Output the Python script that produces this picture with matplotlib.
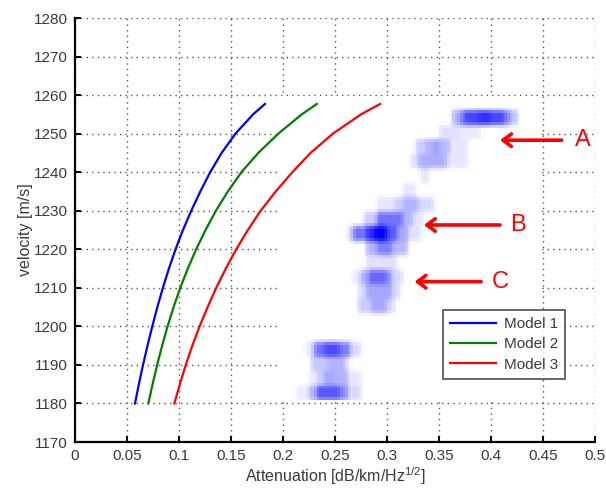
import numpy as np
import matplotlib
matplotlib.use("Agg")
import matplotlib.pyplot as plt
from matplotlib.colors import LinearSegmentedColormap

plt.rcParams["font.family"] = ["Liberation Sans", "DejaVu Sans"]
plt.rcParams["mathtext.fontset"] = "custom"
plt.rcParams["mathtext.rm"] = "Liberation Sans"
plt.rcParams["mathtext.it"] = "Liberation Sans"

# Model velocity-attenuation curves
velocity = [1180, 1185, 1190, 1195, 1200, 1205, 1210, 1215, 1220, 1225,
            1230, 1235, 1240, 1245, 1250, 1255, 1257.7]
model1 = [0.0577, 0.0614, 0.0654, 0.0697, 0.0743, 0.0792, 0.0845, 0.0903,
          0.0967, 0.1038, 0.1118, 0.1205, 0.1300, 0.1410, 0.1543, 0.1712, 0.1827]
model2 = [0.0705, 0.0746, 0.0790, 0.0838, 0.0890, 0.0948, 0.1012, 0.1085,
          0.1165, 0.1255, 0.1355, 0.1470, 0.1600, 0.1762, 0.1955, 0.2180, 0.2325]
model3 = [0.0955, 0.1008, 0.1065, 0.1128, 0.1198, 0.1275, 0.1358, 0.1450,
          0.1550, 0.1662, 0.1785, 0.1930, 0.2090, 0.2265, 0.2480, 0.2750, 0.2933]
model_names = ["Model 1", "Model 2", "Model 3"]
model_colors = ["#0000ff", "#007f00", "#ff0000"]

# Measured density: (velocity row centre, attenuation from, attenuation to, level)
density_runs = [
    (1254.1, 0.362, 0.370, 0.30), (1254.1, 0.370, 0.376, 0.55),
    (1254.1, 0.376, 0.387, 0.72), (1254.1, 0.387, 0.399, 0.80),
    (1254.1, 0.399, 0.412, 0.70), (1254.1, 0.412, 0.418, 0.50),
    (1254.1, 0.418, 0.425, 0.25),
    (1250.4, 0.351, 0.370, 0.12), (1250.4, 0.370, 0.391, 0.08),
    (1246.6, 0.327, 0.337, 0.20), (1246.6, 0.337, 0.344, 0.30),
    (1246.6, 0.344, 0.351, 0.38), (1246.6, 0.351, 0.360, 0.28),
    (1246.6, 0.360, 0.377, 0.10),
    (1242.9, 0.322, 0.330, 0.12), (1242.9, 0.330, 0.357, 0.32),
    (1242.9, 0.357, 0.377, 0.10),
    (1239.1, 0.332, 0.341, 0.12),
    (1235.4, 0.315, 0.327, 0.10),
    (1231.6, 0.291, 0.307, 0.10), (1231.6, 0.307, 0.315, 0.20),
    (1231.6, 0.315, 0.331, 0.30), (1231.6, 0.331, 0.346, 0.15),
    (1227.9, 0.277, 0.291, 0.20), (1227.9, 0.291, 0.315, 0.55),
    (1227.9, 0.315, 0.325, 0.30), (1227.9, 0.325, 0.335, 0.10),
    (1224.1, 0.262, 0.267, 0.15), (1224.1, 0.267, 0.280, 0.55),
    (1224.1, 0.280, 0.287, 0.80), (1224.1, 0.287, 0.301, 1.00),
    (1224.1, 0.301, 0.311, 0.65), (1224.1, 0.311, 0.319, 0.35),
    (1224.1, 0.319, 0.332, 0.12),
    (1220.4, 0.281, 0.291, 0.30), (1220.4, 0.291, 0.305, 0.50),
    (1220.4, 0.305, 0.320, 0.28),
    (1216.6, 0.280, 0.310, 0.12),
    (1212.9, 0.267, 0.275, 0.10), (1212.9, 0.275, 0.282, 0.35),
    (1212.9, 0.282, 0.301, 0.60), (1212.9, 0.301, 0.306, 0.40),
    (1212.9, 0.306, 0.315, 0.15),
    (1209.1, 0.273, 0.280, 0.15), (1209.1, 0.280, 0.305, 0.35),
    (1209.1, 0.305, 0.312, 0.15),
    (1205.4, 0.272, 0.284, 0.20), (1205.4, 0.284, 0.300, 0.35),
    (1205.4, 0.300, 0.308, 0.15),
    (1194.1, 0.222, 0.230, 0.10), (1194.1, 0.230, 0.240, 0.55),
    (1194.1, 0.240, 0.255, 0.70), (1194.1, 0.255, 0.265, 0.50),
    (1194.1, 0.265, 0.276, 0.15),
    (1190.4, 0.228, 0.243, 0.22), (1190.4, 0.243, 0.260, 0.30),
    (1190.4, 0.260, 0.265, 0.10),
    (1186.6, 0.224, 0.232, 0.08), (1186.6, 0.232, 0.240, 0.20),
    (1186.6, 0.240, 0.250, 0.35), (1186.6, 0.250, 0.263, 0.30),
    (1186.6, 0.263, 0.276, 0.10),
    (1182.9, 0.2135, 0.224, 0.08), (1182.9, 0.224, 0.232, 0.30),
    (1182.9, 0.232, 0.255, 0.65), (1182.9, 0.255, 0.263, 0.45),
    (1182.9, 0.263, 0.274, 0.15),
]

x_ticks = [0, 0.05, 0.1, 0.15, 0.2, 0.25, 0.3, 0.35, 0.4, 0.45, 0.5]
x_tick_labels = ["0", "0.05", "0.1", "0.15", "0.2", "0.25", "0.3", "0.35", "0.4", "0.45", "0.5"]
y_ticks = list(range(1170, 1281, 10))

# Annotation arrows: label, tail x, head x, velocity, label x
markers = [("A", 0.4680, 0.4087, 1248.3, 0.4880),
           ("B", 0.4087, 0.3355, 1226.3, 0.4260),
           ("C", 0.3905, 0.3265, 1211.6, 0.4090)]

# --- density grid (rows split into sub-rows, edges softened slightly) ---
x0, x1, dx = 0.1975, 0.4475, 0.0025
v0, dv, nrows, sub = 1181.0, 3.75, 21, 5
ncols = int(round((x1 - x0) / dx))
grid = np.zeros((nrows * sub, ncols))
xc = x0 + dx * (np.arange(ncols) + 0.5)
for v, a, b, level in density_runs:
    r = int((v - v0) // dv)
    sel = (xc >= a) & (xc < b)
    grid[r * sub:(r + 1) * sub, sel] = level

kern = np.array([0.25, 0.5, 0.25])
grid = np.apply_along_axis(lambda c: np.convolve(c, kern, mode="same"), 0, grid)
grid = np.apply_along_axis(lambda c: np.convolve(c, kern, mode="same"), 1, grid)

fig = plt.figure(figsize=(6.06, 4.92), dpi=100)
ax = fig.add_axes([75 / 606, 50 / 492, 520 / 606, 424 / 492])

cmap = LinearSegmentedColormap.from_list("wb", ["#ffffff", "#0000ff"])
ax.imshow(grid, origin="lower", extent=[x0, x1, v0, v0 + dv * nrows],
          aspect="auto", interpolation="nearest", cmap=cmap, vmin=0, vmax=1,
          zorder=1)

for vals, name, col in zip([model1, model2, model3], model_names, model_colors):
    ax.plot(vals, velocity, color=col, lw=1.6, zorder=3, label=name,
            solid_joinstyle="round")

for lab, tx, hx, v, lx in markers:
    ax.annotate("", xy=(hx, v), xytext=(tx, v),
                arrowprops=dict(arrowstyle="->,head_length=0.6,head_width=0.45",
                                color="#ff0000", lw=2.6, shrinkA=0, shrinkB=0),
                zorder=4)
    ax.text(lx, v, lab, color="#ff0000", fontsize=17, ha="center", va="center",
            zorder=4)

ax.set_xlim(0, 0.5)
ax.set_ylim(1170, 1280)
ax.set_xticks(x_ticks)
ax.set_xticklabels(x_tick_labels)
ax.set_yticks(y_ticks)

ax.set_axisbelow(True)
ax.grid(True, color="#555555", linestyle=(0, (1, 3)), linewidth=1.0)

for s in ["top", "right"]:
    ax.spines[s].set_visible(False)
for s in ["left", "bottom"]:
    ax.spines[s].set_linewidth(1.6)
    ax.spines[s].set_color("black")

ax.tick_params(direction="in", length=4, width=1.4, labelsize=11,
               labelcolor="#3a3a3a", pad=5)

ax.set_xlabel(r"Attenuation [dB/km/Hz$^{1/2}$]", fontsize=11.5, color="#3a3a3a",
              labelpad=2)
ax.set_ylabel("velocity [m/s]", fontsize=11.5, color="#3a3a3a", labelpad=1)

leg = ax.legend(loc="upper left", bbox_to_anchor=(0.708, 0.311),
                frameon=True, fancybox=False, edgecolor="#333333",
                fontsize=11, handlelength=3.0, handletextpad=0.5,
                labelspacing=0.42, borderpad=0.45, borderaxespad=0)
leg.get_frame().set_linewidth(1.3)
for t in leg.get_texts():
    t.set_color("#3a3a3a")
leg.set_zorder(5)

fig.savefig("out.png", dpi=100)
